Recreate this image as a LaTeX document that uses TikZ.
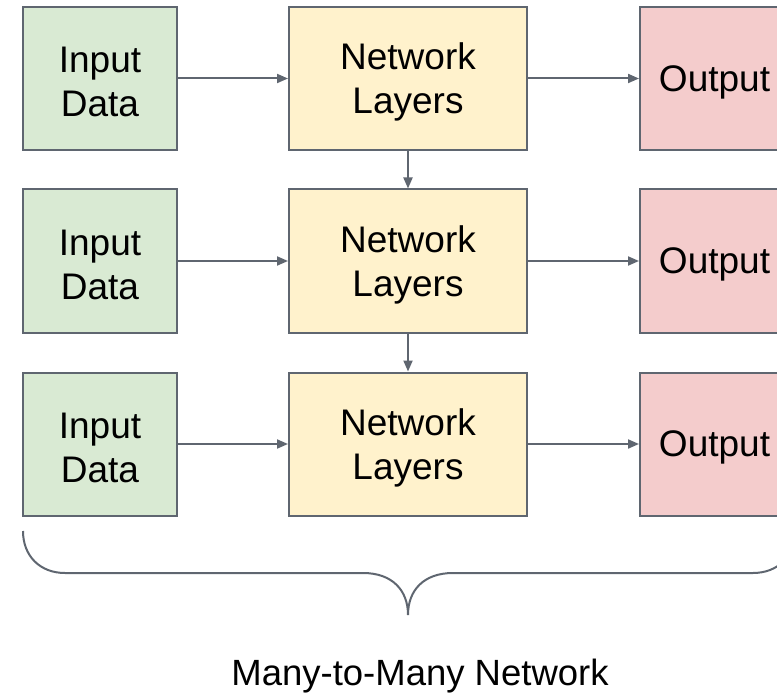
\documentclass[tikz,border=0pt]{standalone}
\usepackage{fontspec}
\setmainfont{Liberation Sans}
\usetikzlibrary{arrows.meta}
\definecolor{edgegray}{HTML}{5F6670}
\definecolor{ingreen}{HTML}{D9EAD3}
\definecolor{netyellow}{HTML}{FFF2CC}
\definecolor{outred}{HTML}{F4CCCC}
\begin{document}
\begin{tikzpicture}[x=1pt,y=1pt,
  boxtext/.style={align=center, inner sep=0pt, yshift=-3.5pt, font=\fontsize{37}{44}\selectfont},
  box/.style={draw=edgegray, line width=2pt, minimum height=143pt, inner sep=0pt},
  inbox/.style={box, fill=ingreen, minimum width=154pt},
  netbox/.style={box, fill=netyellow, minimum width=238pt},
  outbox/.style={box, fill=outred, minimum width=154pt},
  conn/.style={draw=edgegray, line width=2pt, -{Triangle[length=11pt,width=9pt]}},
]
\useasboundingbox (0,0) rectangle (777,-695);
\clip (0,0) rectangle (777,-695);
\foreach \r/\y in {1/78.5, 2/261, 3/444} {
  \node[inbox, label={[boxtext]center:Input\\Data}] (in\r) at (100,-\y) {};
  \node[netbox, label={[boxtext]center:Network\\Layers}] (net\r) at (408,-\y) {};
  \node[outbox, label={[boxtext, xshift=-2.5pt]center:Output}] (out\r) at (717,-\y) {};
  \draw[conn] (in\r) -- (net\r);
  \draw[conn] (net\r) -- (out\r);
}
\draw[conn] (net1) -- (net2);
\draw[conn] (net2) -- (net3);
% brace
\draw[edgegray, line width=2pt]
  (23,-531) .. controls (23,-556) and (40,-573) .. (65,-573)
  -- (363,-573) .. controls (392,-573) and (408,-590) .. (408,-615)
  .. controls (408,-590) and (424,-573) .. (453,-573)
  -- (753,-573) .. controls (778,-573) and (795,-556) .. (795,-531);
\node[font=\fontsize{36.5}{44}\selectfont, anchor=base] (lbl) at (420,-685) {Many-to-Many Network};
\end{tikzpicture}
\end{document}
